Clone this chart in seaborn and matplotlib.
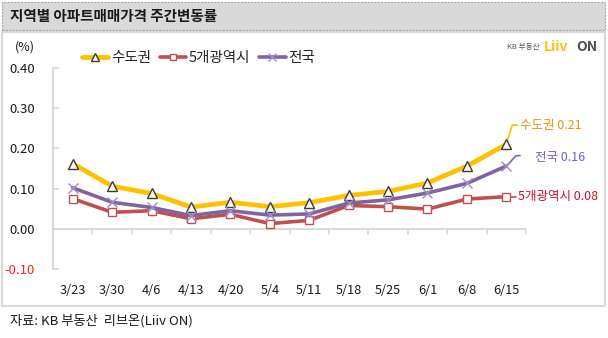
import matplotlib
matplotlib.use("Agg")
import matplotlib.pyplot as plt
import matplotlib.patches as mpatches
from matplotlib.lines import Line2D
import seaborn as sns
import pandas as pd

# ---- data ----
weeks = ["3/23", "3/30", "4/6", "4/13", "4/20", "5/4", "5/11", "5/18", "5/25", "6/1", "6/8", "6/15"]
capital = [0.162, 0.106, 0.088, 0.054, 0.066, 0.055, 0.065, 0.083, 0.093, 0.114, 0.156, 0.21]
metro5 = [0.075, 0.041, 0.045, 0.025, 0.036, 0.013, 0.021, 0.058, 0.055, 0.049, 0.074, 0.08]
nation = [0.102, 0.066, 0.053, 0.033, 0.045, 0.034, 0.037, 0.064, 0.072, 0.089, 0.113, 0.156]
series_names = ["수도권", "5개광역시", "전국"]
end_labels = ["수도권 0.21", "5개광역시 0.08", "전국 0.16"]
yticks = [-0.10, 0.00, 0.10, 0.20, 0.30, 0.40]

sns.set_theme(style="white")
plt.rcParams["font.family"] = ["Noto Sans CJK KR", "DejaVu Sans"]

W, H = 608, 338
fig = plt.figure(figsize=(W / 100, H / 100), dpi=100)

def fx(x):
    return x / W

def fy(y):
    return 1 - y / H

# frames
fig.patches.append(mpatches.Rectangle((fx(2), fy(306)), fx(603), (306 - 32) / H,
                                      transform=fig.transFigure, fill=False,
                                      edgecolor="#D9D9D9", linewidth=1.5))
fig.patches.append(mpatches.Rectangle((fx(2), fy(30)), fx(603), 28 / H,
                                      transform=fig.transFigure, facecolor="#D9D9D9",
                                      edgecolor="#A6A6A6", linewidth=0.8, linestyle=(0, (2, 1))))
fig.text(fx(10), fy(16), "지역별 아파트매매가격 주간변동률", fontsize=10.5, fontweight="bold",
         color="#1a1a1a", va="center", ha="left")

ax = fig.add_axes([fx(53), fy(269), fx(526 - 53), (269 - 68) / H])

df = pd.DataFrame({
    "week": weeks * 3,
    "value": capital + metro5 + nation,
    "series": [series_names[0]] * len(weeks) + [series_names[1]] * len(weeks) + [series_names[2]] * len(weeks),
})

line_colors = {"수도권": "#FFC000", "5개광역시": "#C0504D", "전국": "#8064A2"}
styles = {
    "수도권": dict(marker="^", markersize=7, markerfacecolor="#FFFBEF", markeredgecolor="#3A3A3A", markeredgewidth=1.0, lw=3.4),
    "5개광역시": dict(marker="s", markersize=5.5, markerfacecolor="white", markeredgecolor="#C0504D", markeredgewidth=1.0, lw=2.6),
    "전국": dict(marker="x", markersize=7, markeredgecolor="#9D8BC8", markeredgewidth=1.0, lw=2.6),
}

for name in series_names:
    sub = df[df["series"] == name]
    st = styles[name]
    sns.lineplot(data=sub, x="week", y="value", ax=ax, color=line_colors[name],
                 linewidth=st["lw"], marker=st["marker"], markersize=st["markersize"],
                 markerfacecolor=st.get("markerfacecolor", line_colors[name]),
                 markeredgecolor=st["markeredgecolor"], markeredgewidth=st["markeredgewidth"],
                 sort=False, zorder=3, legend=False)

ax.set_xlim(-0.5, len(weeks) - 0.5)
ax.set_ylim(-0.10, 0.40)
ax.set_yticks(yticks)
ax.set_yticklabels([f"{v:.2f}" for v in yticks], fontsize=9.5, color="#1a1a1a")
ax.get_yticklabels()[0].set_color("#FF2020")
ax.tick_params(axis="y", direction="in", length=4, color="#D9D9D9", pad=13, left=True)
ax.set_xticks(range(len(weeks)))
ax.set_xticklabels(weeks, fontsize=9.2, color="#1a1a1a")
ax.tick_params(axis="x", length=0, pad=11)
ax.set_xlabel("")
ax.set_ylabel("")
for s in ["top", "right", "bottom"]:
    ax.spines[s].set_visible(False)
ax.spines["left"].set_color("#D9D9D9")
ax.spines["left"].set_linewidth(1.5)
ax.axhline(0, color="#D9D9D9", lw=1.5, zorder=1)
for k in range(len(weeks)):
    ax.plot([k + 0.5, k + 0.5], [0, -0.012], color="#D9D9D9", lw=1.2, zorder=1, clip_on=False)
ax.set_facecolor("none")

# end labels with leader lines
n = len(weeks) - 1
lab_colors = {"수도권": "#E8900A", "5개광역시": "#C8102E", "전국": "#7B5CC4"}
ax.plot([n, n + 0.15, n + 0.28], [capital[-1], capital[-1] + 0.048, capital[-1] + 0.048],
        color="#FFC000", lw=1.2, zorder=2, clip_on=False)
ax.text(n + 0.36, capital[-1] + 0.048, end_labels[0], color=lab_colors["수도권"], fontsize=9,
        va="center", ha="left", clip_on=False)
ax.plot([n, n + 0.25, n + 0.35], [nation[-1], nation[-1] + 0.026, nation[-1] + 0.026],
        color="#8064A2", lw=1.2, zorder=2, clip_on=False)
ax.text(n + 0.74, nation[-1] + 0.022, end_labels[2], color=lab_colors["전국"], fontsize=9,
        va="center", ha="left", clip_on=False)
ax.plot([n, n + 0.25], [metro5[-1], metro5[-1]], color="#C0504D", lw=1.2, zorder=2, clip_on=False)
ax.text(n + 0.3, metro5[-1], end_labels[1], color=lab_colors["5개광역시"], fontsize=9,
        va="center", ha="left", clip_on=False)

# legend
handles = [
    Line2D([], [], color=line_colors[nm], lw=styles[nm]["lw"], marker=styles[nm]["marker"],
           markersize=styles[nm]["markersize"] - 1,
           markerfacecolor=styles[nm].get("markerfacecolor", line_colors[nm]),
           markeredgecolor=styles[nm]["markeredgecolor"], markeredgewidth=1.0)
    for nm in series_names
]
fig.legend(handles, series_names, loc="center left", bbox_to_anchor=(fx(76), fy(58)),
           ncol=3, frameon=False, fontsize=10.5, handlelength=1.8, handletextpad=0.2,
           columnspacing=0.6, borderaxespad=0)

fig.text(fx(25), fy(47), "(%)", fontsize=9, color="#1a1a1a", ha="center", va="center")

# logo
fig.text(fx(540), fy(47), "KB 부동산", fontsize=5.5, color="#555555", ha="right", va="center")
fig.text(fx(544), fy(47), "Liiv", fontsize=10, fontweight="bold", color="#FFC000", ha="left", va="center")
fig.text(fx(576), fy(47), "ON", fontsize=10, fontweight="bold", color="#4D4D4D", ha="left", va="center")

fig.text(fx(10), fy(321), "자료: KB 부동산  리브온(Liiv ON)", fontsize=9.5, color="#1a1a1a",
         ha="left", va="center")

fig.savefig("out.png", dpi=100)
